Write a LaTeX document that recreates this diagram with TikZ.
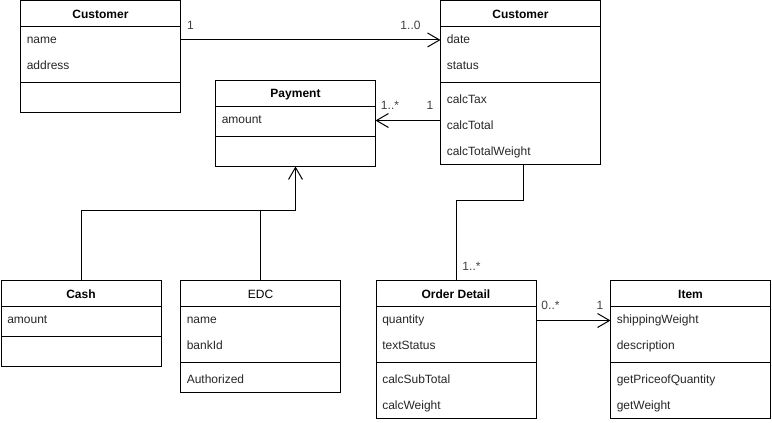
\documentclass[tikz,border=0pt]{standalone}
\usepackage{fontspec}
\setmainfont{Liberation Sans}
\usetikzlibrary{positioning, arrows.meta, calc}

\begin{document}
\begin{tikzpicture}[
    x=0.75pt, y=-0.75pt,
    font=\fontsize{9}{11}\selectfont,
    % --- styles ---
    cls/.style={
            draw,
            line width=0.75pt,
            anchor=north west,
            minimum width=120pt,
            inner sep=0pt,
            outer sep=0pt
        },
    title/.style={
            anchor=north,
            minimum height=20.25pt,
            inner sep=0pt,
            font=\fontsize{9}{11}\selectfont\bfseries
        },
    attr/.style={
            anchor=west,
            inner sep=0pt,
            text height=6.6pt,
            text depth=1.8pt,
            text=black!85
        },
    divline/.style={line width=0.75pt},
    mult/.style={
            inner sep=0pt,
            text height=6.5pt,
            text depth=0pt,
            text=black!75
        },
    assoc/.style={
            -{Straight Barb[length=9pt, width=10.5pt]},
            line width=0.75pt
        },
    gen/.style={assoc}
    ]
    \useasboundingbox (-0.5,-0.5) rectangle (771.5,421.5);

    % --- CLASSES (top row) ---
    \node[cls, minimum height=84pt] (cust) at (20,0) {};
    \node[title] (cust-t) at (cust.north) {Customer};
    \draw[divline] ($(cust.north west)+(0,26)$) -- ($(cust.north east)+(0,26)$);
    \draw[divline] ($(cust.north west)+(0,82)$) -- ($(cust.north east)+(0,82)$);
    \foreach \t [count=\i from 0] in {name, address}
        \node[attr] (cust-a\i) at ($(cust.north west)+(6,40+26*\i)$) {\t};

    \node[cls, minimum height=123pt] (order) at (440,0) {};
    \node[title] (order-t) at (order.north) {Customer};
    \draw[divline] ($(order.north west)+(0,26)$) -- ($(order.north east)+(0,26)$);
    \draw[divline] ($(order.north west)+(0,82)$) -- ($(order.north east)+(0,82)$);
    \foreach \t [count=\i from 0] in {date, status}
        \node[attr] (order-a\i) at ($(order.north west)+(6,40+26*\i)$) {\t};
    \foreach \t [count=\i from 0] in {calcTax, calcTotal, calcTotalWeight}
        \node[attr] (order-m\i) at ($(order.north west)+(6,100+26*\i)$) {\t};

    \node[cls, minimum height=64.5pt] (pay) at (215,80) {};
    \node[title] (pay-t) at (pay.north) {Payment};
    \draw[divline] ($(pay.north west)+(0,26)$) -- ($(pay.north east)+(0,26)$);
    \draw[divline] ($(pay.north west)+(0,56)$) -- ($(pay.north east)+(0,56)$);
    \node[attr] (pay-a0) at ($(pay.north west)+(6,40)$) {amount};

    % --- CLASSES (bottom row) ---
    \node[cls, minimum height=64.5pt] (cash) at (0.5,280) {};
    \node[title] (cash-t) at (cash.north) {Cash};
    \draw[divline] ($(cash.north west)+(0,26)$) -- ($(cash.north east)+(0,26)$);
    \draw[divline] ($(cash.north west)+(0,56)$) -- ($(cash.north east)+(0,56)$);
    \node[attr] (cash-a0) at ($(cash.north west)+(6,40)$) {amount};

    \node[cls, minimum height=84pt] (edc) at (180,280) {};
    \node[title, font=\fontsize{9}{11}\selectfont] (edc-t) at (edc.north) {EDC};
    \draw[divline] ($(edc.north west)+(0,26)$) -- ($(edc.north east)+(0,26)$);
    \draw[divline] ($(edc.north west)+(0,82)$) -- ($(edc.north east)+(0,82)$);
    \foreach \t [count=\i from 0] in {name, bankId}
        \node[attr] (edc-a\i) at ($(edc.north west)+(6,40+26*\i)$) {\t};
    \node[attr] (edc-m0) at ($(edc.north west)+(6,100)$) {Authorized};

    \node[cls, minimum height=103.5pt] (detail) at (375.5,280) {};
    \node[title] (detail-t) at (detail.north) {Order Detail};
    \draw[divline] ($(detail.north west)+(0,26)$) -- ($(detail.north east)+(0,26)$);
    \draw[divline] ($(detail.north west)+(0,82)$) -- ($(detail.north east)+(0,82)$);
    \foreach \t [count=\i from 0] in {quantity, textStatus}
        \node[attr] (detail-a\i) at ($(detail.north west)+(6,40+26*\i)$) {\t};
    \foreach \t [count=\i from 0] in {calcSubTotal, calcWeight}
        \node[attr] (detail-m\i) at ($(detail.north west)+(6,100+26*\i)$) {\t};

    \node[cls, minimum height=103.5pt] (item) at (610,280) {};
    \node[title] (item-t) at (item.north) {Item};
    \draw[divline] ($(item.north west)+(0,26)$) -- ($(item.north east)+(0,26)$);
    \draw[divline] ($(item.north west)+(0,82)$) -- ($(item.north east)+(0,82)$);
    \foreach \t [count=\i from 0] in {shippingWeight, description}
        \node[attr] (item-a\i) at ($(item.north west)+(6,40+26*\i)$) {\t};
    \foreach \t [count=\i from 0] in {getPriceofQuantity, getWeight}
        \node[attr] (item-m\i) at ($(item.north west)+(6,100+26*\i)$) {\t};

    % --- ASSOCIATIONS ---
    \draw[assoc] ([yshift=0.4pt]cust.east |- cust-a0) -- ([yshift=0.4pt]order.west |- cust-a0);
    \node[mult] (m-cust) at ($(cust.east |- cust-a0)+(10,-15.5)$) {1};
    \node[mult] (m-order1) at ($(order.west |- cust-a0)+(-30,-15.5)$) {1..0};

    \draw[assoc] (order.west |- pay-a0) -- (pay.east |- pay-a0);
    \node[mult] (m-pay) at ($(pay.east |- pay-a0)+(14.5,-15)$) {1..*};
    \node[mult] (m-order2) at ($(order.west |- pay-a0)+(-10.5,-15)$) {1};

    \draw[line width=0.75pt] ([xshift=1.9pt]order.south) -- ++(0,36) -| (detail.north);
    \node[mult] (m-detail1) at ($(detail.north)+(15.5,-14)$) {1..*};

    \draw[assoc] (detail.east |- detail-a0) -- (item.west |- detail-a0);
    \node[mult] (m-detail2) at ($(detail.east |- detail-a0)+(14.5,-15.5)$) {0..*};
    \node[mult] (m-item) at ($(item.west |- detail-a0)+(-10.5,-15.5)$) {1};

    % --- GENERALIZATION ---
    \coordinate (join) at ($(pay.south)+(0,44)$);
    \draw[gen] (cash.north) |- (join) -- (pay.south);
    \draw[line width=0.75pt] (edc.north) -- (edc.north |- join);

\end{tikzpicture}
\end{document}
